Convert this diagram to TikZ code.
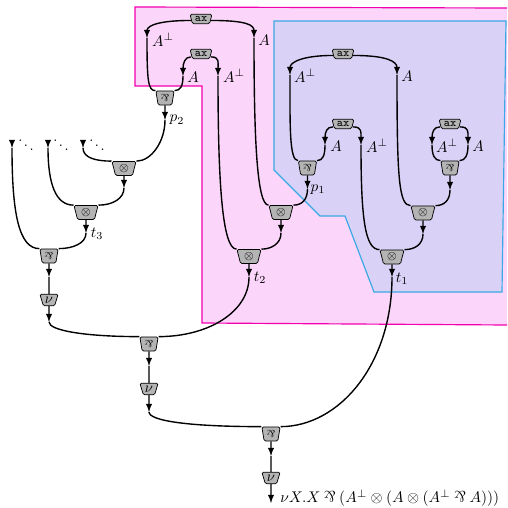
\documentclass[tikz,border=0pt]{standalone}
\usepackage{amsmath}
\usepackage{amssymb}
\usepackage{tikz}
\usetikzlibrary{shapes.geometric}

\definecolor{boxpink}{HTML}{FBD5FA}
\definecolor{linepink}{HTML}{F200AE}
\definecolor{boxblue}{HTML}{D9D2F6}
\definecolor{lineblue}{HTML}{38A9E4}
\definecolor{cellgray}{HTML}{B4B4B4}

\tikzset{
    cell/.style={shape=trapezium,shape border rotate=180,trapezium stretches=true,
        draw=black,fill=cellgray,rounded corners=1pt,inner sep=0pt,line width=0.5pt},
    tensorcell/.style={cell,minimum width=16.5pt,minimum height=9.6pt,trapezium angle=76},
    parcell/.style={cell,minimum width=12.5pt,minimum height=9.6pt,trapezium angle=78},
    axcell/.style={cell,minimum width=15pt,minimum height=6.4pt,trapezium angle=72},
    nucell/.style={cell,minimum width=12.5pt,minimum height=8pt,trapezium angle=68},
    wire/.style={line width=0.95pt,black},
    lab/.style={scale=1.05},
    pull/.style 2 args={out min distance=#1,out max distance=#1,in min distance=#2,in max distance=#2}
}
\newcommand{\parrsym}{\mathbin{\rotatebox[origin=c]{180}{$\&$}}}
\newcommand{\tensorsym}{{\footnotesize$\otimes$}}
\newcommand{\parsym}{{\scriptsize\rotatebox[origin=c]{180}{$\&$}}}
\newcommand{\axsym}{{\footnotesize\ttfamily ax}}

\begin{document}
\begin{tikzpicture}[%
    >=latex,
    x=0.685pt,
    y=-0.685pt
    ]
    \useasboundingbox (0,0) rectangle (507,508);

    \fill[boxpink] (135,7) -- (507,8) -- (507,325) -- (202,323) -- (202,86) -- (135,86) -- cycle;
    \draw[linepink,thick] (507,8) -- (135,7) -- (135,86) -- (202,86) -- (202,323) -- (507,325);
    \draw[lineblue,thick,fill=boxblue] (274,21) -- (506,21) -- (502,292) -- (374,292) -- (345,216) -- (320,216) -- (274,170) -- cycle;

    \node[axcell] (ax1) at (201,19) {\axsym};
    \node[axcell] (ax2) at (201,54) {\axsym};
    \node[axcell] (ax3) at (343,54) {\axsym};
    \node[axcell] (ax4) at (343,124) {\axsym};
    \node[axcell] (ax5) at (450,124) {\axsym};
    \node[parcell] (par1) at (165,98) {\parsym};
    \node[parcell] (par2) at (307.5,168) {\parsym};
    \node[parcell] (par3) at (450,168) {\parsym};
    \node[parcell] (par4) at (49,256) {\parsym};
    \node[parcell] (par5) at (149,344) {\parsym};
    \node[parcell] (par6) at (271,434) {\parsym};
    \node[tensorcell] (ten1) at (281,212.5) {\tensorsym};
    \node[tensorcell] (ten2) at (249,256.5) {\tensorsym};
    \node[tensorcell] (ten3) at (423,213) {\tensorsym};
    \node[tensorcell] (ten4) at (392,257) {\tensorsym};
    \node[tensorcell] (ten5) at (124,168.5) {\tensorsym};
    \node[tensorcell] (ten6) at (86,212.5) {\tensorsym};
    \node[nucell] (nu1) at (49,300) {$\nu$};
    \node[nucell] (nu2) at (149,389) {$\nu$};
    \node[nucell] (nu3) at (271,478) {$\nu$};

    \coordinate (w1) at (147,38);
    \coordinate (w2) at (254,38);
    \coordinate (w3) at (183,76);
    \coordinate (w4) at (218,76);
    \coordinate (w5) at (165,120);
    \coordinate (w6) at (290,75);
    \coordinate (w7) at (397,75);
    \coordinate (w8) at (325,145);
    \coordinate (w9) at (361,145);
    \coordinate (w10) at (432,145);
    \coordinate (w11) at (468,145);
    \coordinate (w12) at (307.5,189);
    \coordinate (w13) at (450,190);
    \coordinate (w14) at (281,233);
    \coordinate (w15) at (423,234);
    \coordinate (w16) at (249,277);
    \coordinate (w17) at (392,277);
    \coordinate (w18) at (124,188);
    \coordinate (w19) at (86,233);
    \coordinate (w20) at (49,277);
    \coordinate (w21) at (49,322);
    \coordinate (w22) at (149,366);
    \coordinate (w23) at (149,412);
    \coordinate (w24) at (271,456);
    \coordinate (w25) at (271,503);
    \coordinate (w26) at (83,148);
    \coordinate (w27) at (48,148);
    \coordinate (w28) at (12,148);
    \coordinate (s1) at (83,142);
    \coordinate (s2) at (48,142);
    \coordinate (s3) at (12,142);

    % axiom links, down to their arrows
    \path[wire,->] ([yshift=-1pt]ax1.west) edge[out=180,in=90,pull={20pt}{9pt}] (w1);
    \path[wire,->] ([yshift=-1pt]ax1.east) edge[out=0,in=90,pull={24pt}{9pt}] (w2);
    \path[wire,->] ([yshift=-2pt]ax2.west) edge[out=180,in=90,pull={4pt}{9pt}] (w3);
    \path[wire,->] ([yshift=-2pt]ax2.east) edge[out=0,in=90,pull={6pt}{9pt}] (w4);
    \path[wire,->] ([yshift=-1pt]ax3.west) edge[out=180,in=90,pull={20pt}{9pt}] (w6);
    \path[wire,->] ([yshift=-1pt]ax3.east) edge[out=0,in=90,pull={24pt}{9pt}] (w7);
    \path[wire,->] ([yshift=-2pt]ax4.west) edge[out=180,in=90,pull={4pt}{9pt}] (w8);
    \path[wire,->] ([yshift=-2pt]ax4.east) edge[out=0,in=90,pull={6pt}{9pt}] (w9);
    \path[wire,->] ([yshift=-2pt]ax5.west) edge[out=180,in=90,pull={4pt}{9pt}] (w10);
    \path[wire,->] ([yshift=-2pt]ax5.east) edge[out=0,in=90,pull={6pt}{9pt}] (w11);

    % from the arrows into the cells
    \path[wire] (w1) edge[out=-90,in=180,pull={30pt}{5pt}] (par1.bottom right corner);
    \path[wire] (w3) edge[out=-90,in=0,pull={7pt}{4pt}] (par1.bottom left corner);
    \path[wire] (w2) edge[out=-90,in=180,pull={68pt}{8pt}] (ten1.bottom right corner);
    \path[wire] (w4) edge[out=-90,in=180,pull={70pt}{10pt}] (ten2.bottom right corner);
    \path[wire] (w6) edge[out=-90,in=180,pull={34pt}{6pt}] (par2.bottom right corner);
    \path[wire] (w8) edge[out=-90,in=0,pull={7pt}{4pt}] (par2.bottom left corner);
    \path[wire] (w7) edge[out=-90,in=180,pull={70pt}{8pt}] (ten3.bottom right corner);
    \path[wire] (w9) edge[out=-90,in=180,pull={50pt}{10pt}] (ten4.bottom right corner);
    \path[wire] (w10) edge[out=-90,in=180,pull={7pt}{4pt}] (par3.bottom right corner);
    \path[wire] (w11) edge[out=-90,in=0,pull={7pt}{4pt}] (par3.bottom left corner);

    \path[wire,->] (par1.south) edge (w5);
    \path[wire,->] (par2.south) edge (w12);
    \path[wire,->] (par3.south) edge (w13);
    \path[wire,->] (ten1.south) edge (w14);
    \path[wire,->] (ten3.south) edge (w15);
    \path[wire,->] (ten2.south) edge (w16);
    \path[wire,->] (ten4.south) edge (w17);
    \path[wire,->] (ten5.south) edge (w18);
    \path[wire,->] (ten6.south) edge (w19);
    \path[wire,->] (par4.south) edge (w20);
    \path[wire,->] (nu1.south) edge (w21);
    \path[wire,->] (par5.south) edge (w22);
    \path[wire,->] (nu2.south) edge (w23);
    \path[wire,->] (par6.south) edge (w24);
    \path[wire,->] (nu3.south) edge (w25);

    \path[wire] (w12) edge[out=-90,in=0,pull={7pt}{6pt}] (ten1.bottom left corner);
    \path[wire] (w13) edge[out=-90,in=0,pull={7pt}{6pt}] (ten3.bottom left corner);
    \path[wire] (w14) edge[out=-90,in=0,pull={7.5pt}{6.5pt}] (ten2.bottom left corner);
    \path[wire] (w15) edge[out=-90,in=0,pull={7.5pt}{6.5pt}] (ten4.bottom left corner);
    \path[wire] (w5) edge[out=-90,in=0,pull={15pt}{10pt}] (ten5.bottom left corner);
    \path[wire] (w18) edge[out=-90,in=0,pull={7pt}{10pt}] (ten6.bottom left corner);
    \path[wire] (w19) edge[out=-90,in=0,pull={7pt}{10pt}] (par4.bottom left corner);
    \path[wire] (w20) edge (nu1.north);
    \path[wire] (w21) edge[out=-90,in=180,pull={6pt}{36pt}] (par5.bottom right corner);
    \path[wire] (w16) edge[out=-90,in=0,pull={24pt}{34pt}] (par5.bottom left corner);
    \path[wire] (w22) edge (nu2.north);
    \path[wire] (w23) edge[out=-90,in=180,pull={6pt}{50pt}] (par6.bottom right corner);
    \path[wire] (w17) edge[out=-90,in=0,pull={60pt}{40pt}] (par6.bottom left corner);
    \path[wire] (w24) edge (nu3.north);

    % open ends on the left
    \path[wire,->] (s1) edge (w26);
    \path[wire,->] (s2) edge (w27);
    \path[wire,->] (s3) edge (w28);
    \path[wire] (w26) edge[out=-90,in=180,pull={7pt}{10pt}] (ten5.bottom right corner);
    \path[wire] (w27) edge[out=-90,in=180,pull={25pt}{12pt}] (ten6.bottom right corner);
    \path[wire] (w28) edge[out=-90,in=180,pull={45pt}{14pt}] (par4.bottom right corner);

    \node (dots1) at (26,141) {$\ddots$};
    \node (dots2) at (61,141) {$\ddots$};
    \node (dots3) at (97,141) {$\ddots$};

    \node[lab] (lab1) at (163,40) {$A^\perp$};
    \node[lab] (lab2) at (264,40) {$A$};
    \node[lab] (lab3) at (193,77) {$A$};
    \node[lab] (lab4) at (234,76) {$A^\perp$};
    \node[lab] (lab5) at (177,120) {$p_2$};
    \node[lab] (lab6) at (305,76) {$A^\perp$};
    \node[lab] (lab7) at (407,76) {$A$};
    \node[lab] (lab8) at (336,146) {$A$};
    \node[lab] (lab9) at (377,146) {$A^\perp$};
    \node[lab] (lab10) at (447,146) {$A^\perp$};
    \node[lab] (lab11) at (478,146) {$A$};
    \node[lab] (lab12) at (318,189.5) {$p_1$};
    \node[lab] (lab13) at (260,278) {$t_2$};
    \node[lab] (lab14) at (402,279) {$t_1$};
    \node[lab] (lab15) at (97,234) {$t_3$};
    \node[anchor=west,inner sep=0pt,scale=1.058] (lab16) at (280,498) {$\nu X.X \parrsym (A^\perp \otimes (A \otimes (A^\perp \parrsym A)))$};

    \end{tikzpicture}
\end{document}
